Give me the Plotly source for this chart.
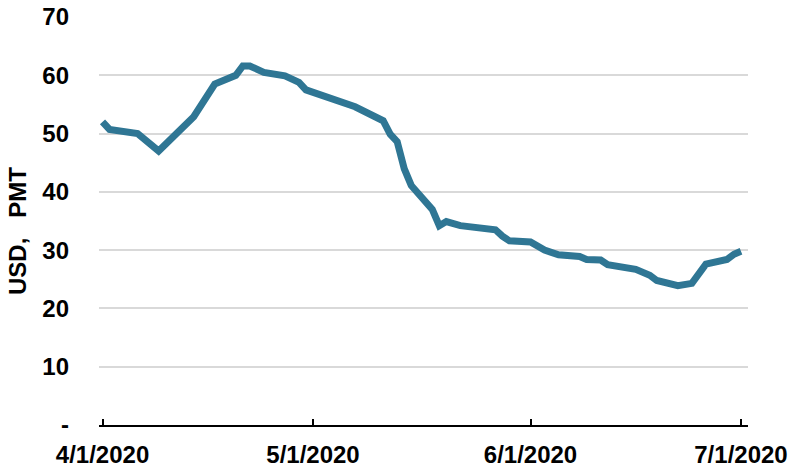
import plotly.graph_objects as go

dates = ["2020-04-01", "2020-04-02", "2020-04-06", "2020-04-09", "2020-04-14", "2020-04-17",
         "2020-04-20", "2020-04-21", "2020-04-22", "2020-04-23", "2020-04-24", "2020-04-27",
         "2020-04-28", "2020-04-29", "2020-04-30", "2020-05-05", "2020-05-07", "2020-05-11",
         "2020-05-12", "2020-05-13", "2020-05-14", "2020-05-15", "2020-05-18", "2020-05-19",
         "2020-05-20", "2020-05-22", "2020-05-27", "2020-05-28", "2020-05-29", "2020-06-01",
         "2020-06-03", "2020-06-05", "2020-06-08", "2020-06-09", "2020-06-11", "2020-06-12",
         "2020-06-15", "2020-06-16", "2020-06-18", "2020-06-19", "2020-06-22", "2020-06-24",
         "2020-06-26", "2020-06-29", "2020-06-30", "2020-07-01"]
prices = [52.0, 50.7, 50.0, 47.0, 52.9, 58.5,
          60.0, 61.6, 61.6, 61.2, 60.5, 59.9,
          59.3, 58.8, 57.5, 55.6, 54.6, 52.2,
          49.9, 48.6, 44.0, 41.1, 37.0, 34.2,
          34.9, 34.2, 33.5, 32.4, 31.6, 31.4,
          30.0, 29.2, 28.9, 28.4, 28.3, 27.5,
          26.9, 26.7, 25.7, 24.8, 23.9, 24.3,
          27.6, 28.4, 29.3, 29.8]

x_tick_vals = ["2020-04-01", "2020-05-01", "2020-06-01", "2020-07-01"]
x_tick_text = ["4/1/2020", "5/1/2020", "6/1/2020", "7/1/2020"]
y_tick_vals = [0, 10, 20, 30, 40, 50, 60, 70]
y_tick_text = ["-", "10", "20", "30", "40", "50", "60", "70"]

font_family = "Liberation Sans, Arial, sans-serif"

fig = go.Figure()
fig.add_trace(go.Scatter(
    x=dates, y=prices, mode="lines",
    line=dict(color="#2F7694", width=7),
    hoverinfo="skip", showlegend=False,
))

fig.update_layout(
    width=795, height=467,
    margin=dict(l=99, r=47, t=17, b=42),
    paper_bgcolor="white", plot_bgcolor="white",
    font=dict(family=font_family, color="black", size=24),
    xaxis=dict(
        range=["2020-03-31 12:00", "2020-07-02"],
        automargin=False,
        tickmode="array", tickvals=x_tick_vals, ticktext=x_tick_text,
        showgrid=False, zeroline=False,
        showline=True, linecolor="black", linewidth=2,
        ticks="inside", ticklen=6, tickwidth=1.5, tickcolor="black",
        ticklabelstandoff=7,
        tickfont=dict(family=font_family, size=24, color="black", weight="bold"),
    ),
    yaxis=dict(
        range=[0, 70],
        automargin=False,
        tickmode="array", tickvals=y_tick_vals, ticktext=y_tick_text,
        showgrid=True, gridcolor="#D9D9D9", gridwidth=2,
        zeroline=False, showline=False, ticks="",
        ticklabelstandoff=29,
        tickfont=dict(family=font_family, size=24, color="black", weight="bold"),
        title=dict(text="USD,&nbsp;&nbsp;&nbsp;PMT&nbsp;&nbsp;&nbsp;", standoff=8,
                   font=dict(family=font_family, size=24, color="black", weight="bold")),
    ),
)

fig.write_html("out.html", config={"displayModeBar": False},
               post_script="document.body.style.margin='0';document.body.style.overflow='hidden';")
